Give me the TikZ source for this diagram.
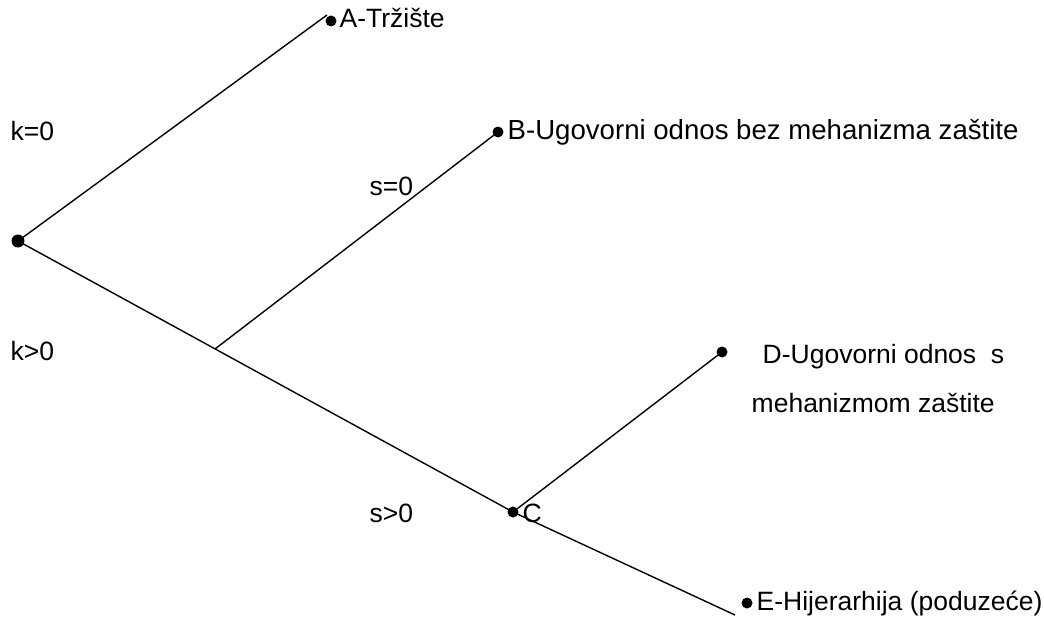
\documentclass[tikz,border=0pt]{standalone}
\usepackage{fontspec}
\setmainfont{Liberation Sans}
\begin{document}
\begin{tikzpicture}[x=1pt,y=-1pt,line width=1.4pt,
  dot/.style={circle,fill=black,draw=none,inner sep=0pt,minimum size=11pt},
  lbl/.style={anchor=base west,inner sep=0pt,font=\fontsize{26.5}{32}\selectfont}]
\useasboundingbox (0,0) rectangle (1044,634);
% dots
\node[dot,minimum size=13pt] (root) at (18,241) {};
\node[dot] (A) at (331,21) {};
\node[dot] (B) at (498,132) {};
\node[dot] (C) at (513,512) {};
\node[dot] (D) at (722,352) {};
\node[dot] (E) at (747,603) {};
% line ends
\coordinate (aend) at (327,15);
\coordinate (br) at (215,349);
\coordinate (eend) at (735,615);
% connectors
\draw (root.center) -- (aend);
\draw (root.center) -- (C.center) -- (eend);
\draw (br) -- (B.center);
\draw (C.center) -- (D.center);
% texts
\node[lbl] (tA) at (339,28) {A-Tržište};
\node[lbl,font=\fontsize{27.6}{32}\selectfont] (tB) at (507,139) {B-Ugovorni odnos bez mehanizma zaštite};
\node[lbl] (tC) at (522,522) {C};
\node[lbl] (tD1) at (762,363) {D-Ugovorni odnos\ \ s};
\node[lbl] (tD2) at (751,412) {mehanizmom zaštite};
\node[lbl] (tE) at (756,610) {E-Hijerarhija (poduzeće)};
\node[lbl] (k0) at (10,140) {k=0};
\node[lbl] (s0) at (369,195) {s=0};
\node[lbl] (k1) at (10,360) {k>0};
\node[lbl] (s1) at (369,522) {s>0};
\end{tikzpicture}
\end{document}
